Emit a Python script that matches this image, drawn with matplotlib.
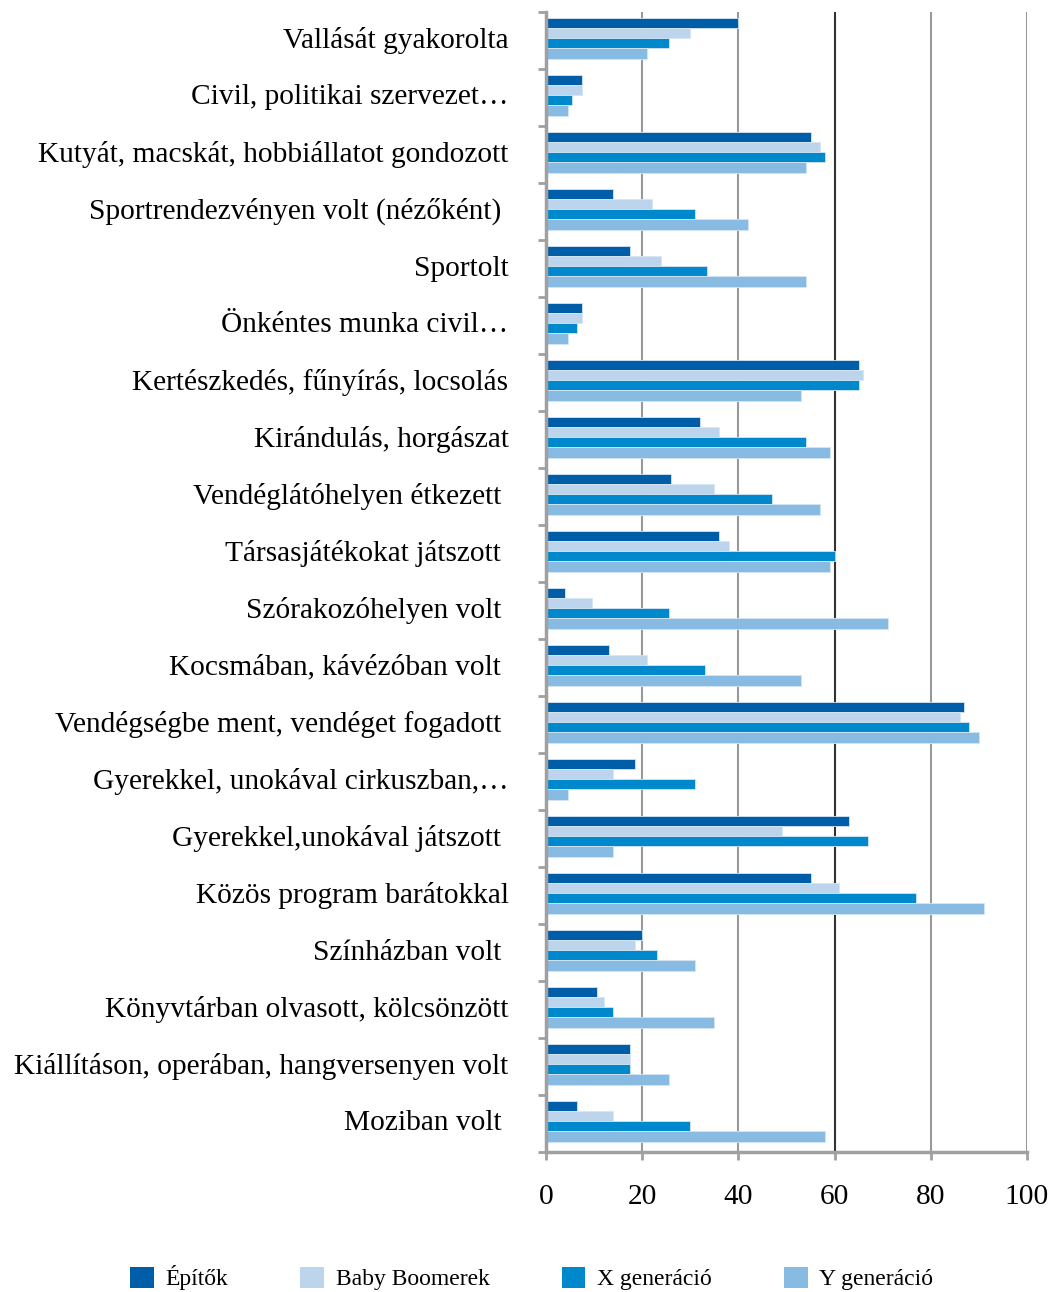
import matplotlib
matplotlib.use("Agg")
import matplotlib.pyplot as plt
from matplotlib.patches import Patch
from matplotlib.transforms import ScaledTranslation
import numpy as np

# ── data ──────────────────────────────────────────────────────────────────────
CATEGORIES = [
    "Vallását gyakorolta",
    "Civil, politikai szervezet…",
    "Kutyát, macskát, hobbiállatot gondozott",
    "Sportrendezvényen volt (nézőként) ",
    "Sportolt",
    "Önkéntes munka civil…",
    "Kertészkedés, fűnyírás, locsolás",
    "Kirándulás, horgászat",
    "Vendéglátóhelyen étkezett ",
    "Társasjátékokat játszott ",
    "Szórakozóhelyen volt ",
    "Kocsmában, kávézóban volt ",
    "Vendégségbe ment, vendéget fogadott ",
    "Gyerekkel, unokával cirkuszban,…",
    "Gyerekkel,unokával játszott ",
    "Közös program barátokkal",
    "Színházban volt ",
    "Könyvtárban olvasott, kölcsönzött",
    "Kiállításon, operában, hangversenyen volt",
    "Moziban volt ",
]
SERIES = ["Építők", "Baby Boomerek", "X generáció", "Y generáció"]
EPITOK = [40, 7.5, 55, 14, 17.5, 7.5, 65, 32, 26, 36, 4, 13, 87, 18.5, 63, 55, 20, 10.5, 17.5, 6.5]
BOOMER = [30, 7.5, 57, 22, 24, 7.5, 66, 36, 35, 38, 9.5, 21, 86, 14, 49, 61, 18.5, 12, 17.5, 14]
XGEN = [25.5, 5.5, 58, 31, 33.5, 6.5, 65, 54, 47, 60, 25.5, 33, 88, 31, 67, 77, 23, 14, 17.5, 30]
YGEN = [21, 4.5, 54, 42, 54, 4.5, 53, 59, 57, 59, 71, 53, 90, 4.5, 14, 91, 31, 35, 25.5, 58]
XTICKS = [0, 20, 40, 60, 80, 100]

COLORS = ["#005EA8", "#BDD5EC", "#0088CC", "#88BBE2"]
FONT = "Liberation Serif"

# ── figure ────────────────────────────────────────────────────────────────────
fig = plt.figure(figsize=(10.51, 12.92), dpi=100)
ax = fig.add_axes([546 / 1051, 1 - 1152 / 1292, (1027 - 546) / 1051, (1152 - 12) / 1292])

y = np.arange(len(CATEGORIES))
h = 0.18
offsets = [-1.5 * h, -0.5 * h, 0.5 * h, 1.5 * h]
for vals, name, col, off in zip([EPITOK, BOOMER, XGEN, YGEN], SERIES, COLORS, offsets):
    ax.barh(y + off - 0.04, vals, height=h, color=col,
            edgecolor="#D6E6F4", linewidth=0.6, zorder=3)

ax.set_xlim(0, 100)
ax.set_ylim(len(CATEGORIES) - 0.5, -0.5)

# gridlines (the 60 one is darker in the source)
for t in XTICKS[1:]:
    ax.axvline(t, color="#333333" if t == 60 else "#999999", linewidth=1.5, zorder=1)

# y labels at category centres, ticks at the boundaries
ax.set_yticks(y)
ax.set_yticklabels(CATEGORIES, fontfamily=FONT, fontsize=21.2)
ax.tick_params(axis="y", which="major", length=0, pad=27)
ax.set_yticks(np.arange(len(CATEGORIES) + 1) - 0.5, minor=True)
ax.tick_params(axis="y", which="minor", length=6, width=2, color="#A0A0A0", direction="out")
shift = ScaledTranslation(0, 3 / 100, fig.dpi_scale_trans)
for lbl in ax.get_yticklabels():
    lbl.set_transform(lbl.get_transform() + shift)

ax.set_xticks(XTICKS)
ax.set_xticklabels([str(t) for t in XTICKS], fontfamily=FONT, fontsize=21.2)
ax.tick_params(axis="x", length=6, width=2, color="#A0A0A0", direction="out", pad=17)

for side in ["top", "right"]:
    ax.spines[side].set_visible(False)
for side in ["left", "bottom"]:
    ax.spines[side].set_color("#A0A0A0")
    ax.spines[side].set_linewidth(2.5)
    ax.spines[side].set_zorder(4)

handles = [Patch(facecolor=c, edgecolor="none") for c in COLORS]
fig.legend(handles, SERIES, loc="center", bbox_to_anchor=(0.506, 1 - 1278 / 1292),
           ncol=4, frameon=False, prop={"family": FONT, "size": 17},
           handlelength=1.0, handleheight=1.0, handletextpad=0.5, columnspacing=3.05)

fig.savefig("out.png", dpi=100)
